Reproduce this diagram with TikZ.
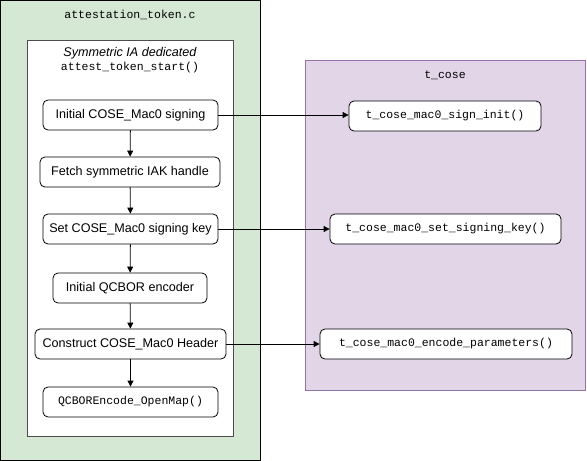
\documentclass[tikz,border=0pt]{standalone}
\usepackage{fontspec}
\setmainfont{Liberation Sans}
\setmonofont{Liberation Mono}
\usetikzlibrary{positioning, arrows.meta}
\definecolor{tokgreen}{HTML}{D5E8D4}
\definecolor{coselilac}{HTML}{E1D5E7}
\definecolor{coseedge}{HTML}{9673A6}
\tikzset{every node/.style={inner sep=0pt}}

\begin{document}
\begin{tikzpicture}[x=1pt, y=-1pt, font=\fontsize{12.6}{14}\selectfont,
    stepbox/.style={draw, fill=white, rounded corners=5pt, line width=0.8pt, minimum height=30pt},
    codebox/.style={stepbox, font=\fontsize{11.5}{13}\ttfamily},
    flow/.style={-{Triangle[length=6pt, width=6pt]}, line width=0.8pt}]

    \useasboundingbox (0,0) rectangle (587,461);

    % Containers
    \draw[fill=tokgreen, line width=1pt] (0.5,0.5) rectangle (260,460);
    \node[font=\fontsize{11.5}{13}\ttfamily] (tokfile) at (130,15) {attestation\_token.c};
    \draw[fill=white, draw=black!70, line width=1pt] (27,40) rectangle (233,436);
    \node[font=\fontsize{12.6}{14}\itshape] (symia) at (130,53) {Symmetric IA dedicated};
    \node[font=\fontsize{11.5}{13}\ttfamily] (tokstart) at (130,68) {attest\_token\_start()};
    \draw[fill=coselilac, draw=coseedge, line width=1pt] (305,60) rectangle (585,390);
    \node[font=\fontsize{11.5}{13}\ttfamily] (tcose) at (445,75) {t\_cose};

    % Steps
    \node[stepbox, minimum width=175pt] (s1) at (130.5,115) {Initial COSE\_Mac0 signing};
    \node[stepbox, minimum width=180pt] (s2) at (130,172) {Fetch symmetric IAK handle};
    \node[stepbox, minimum width=175pt] (s3) at (130.5,229) {Set COSE\_Mac0 signing key};
    \node[stepbox, minimum width=154pt] (s4) at (130,288) {Initial QCBOR encoder};
    \node[stepbox, minimum width=191pt] (s5) at (130.5,344) {Construct COSE\_Mac0 Header};
    \node[codebox, minimum width=175pt] (s6) at (130.5,402) {QCBOREncode\_OpenMap()};

    % t_cose calls
    \node[codebox, minimum width=192pt] (c1) at (445,116) {t\_cose\_mac0\_sign\_init()};
    \node[codebox, minimum width=231pt] (c2) at (445.5,229) {t\_cose\_mac0\_set\_signing\_key()};
    \node[codebox, minimum width=252pt] (c3) at (446,344) {t\_cose\_mac0\_encode\_parameters()};

    % Arrows
    \draw[flow] (s1) -- (s2);
    \draw[flow] (s2) -- (s3);
    \draw[flow] (s3) -- (s4);
    \draw[flow] (s4) -- (s5);
    \draw[flow] (s5) -- (s6);
    \draw[flow] (s1.east) -- (s1.east -| c1.west);
    \draw[flow] (s3.east) -- (s3.east -| c2.west);
    \draw[flow] (s5.east) -- (s5.east -| c3.west);

\end{tikzpicture}
\end{document}
